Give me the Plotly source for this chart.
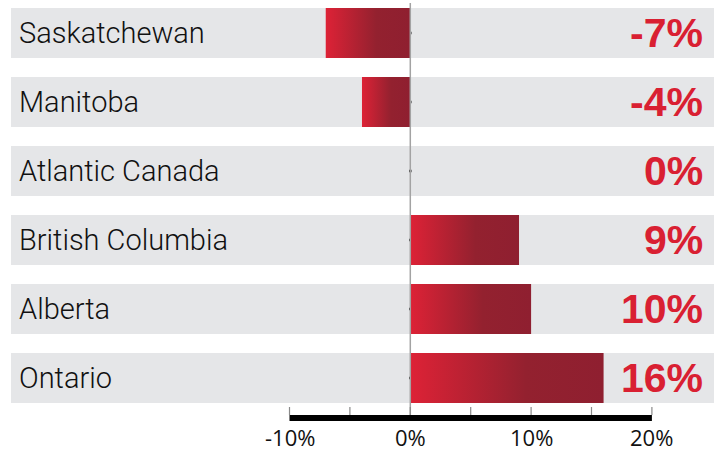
import plotly.graph_objects as go

# Change by region (percent), top to bottom
regions = ["Saskatchewan", "Manitoba", "Atlantic Canada", "British Columbia", "Alberta", "Ontario"]
changes = [-7, -4, 0, 9, 10, 16]
value_labels = ["-7%", "-4%", "0%", "9%", "10%", "16%"]

# Axis ticks
tick_vals = [-10, -5, 0, 5, 10, 15, 20]
label_vals = [-10, 0, 10, 20]
label_text = ["-10%", "0%", "10%", "20%"]

W, H = 723, 451
ZERO_PX, PX_PER_UNIT = 410.3, 12.08
ROW0_PX, ROW_PITCH = 33, 69

x_range = [-ZERO_PX / PX_PER_UNIT, (W - ZERO_PX) / PX_PER_UNIT]
y_range = [(H - ROW0_PX) / ROW_PITCH, -ROW0_PX / ROW_PITCH]


def px_to_x(px):
    return (px - ZERO_PX) / PX_PER_UNIT


def px_to_y(px):
    return (px - ROW0_PX) / ROW_PITCH


half = 25 / ROW_PITCH  # half band / bar height in row units
band_left, band_right = px_to_x(11), px_to_x(714)

RED = "#d92032"
BAND = "#e5e6e8"
GRADIENT = [[0, "#dd2236"], [0.6, "#93212f"], [1, "#8f1f30"]]

fig = go.Figure()
shapes = []
annotations = []

# grey background bands
for i, _ in enumerate(regions):
    shapes.append(dict(type="rect", xref="x", yref="y", layer="below",
                       x0=band_left, x1=band_right, y0=i - half, y1=i + half,
                       fillcolor=BAND, line=dict(width=0)))

# small marks at the zero line
fig.add_trace(go.Scatter(
    x=[0] * len(regions), y=list(range(len(regions))), mode="markers",
    marker=dict(symbol="square", size=2.5, color="#333333", line=dict(width=0)),
    hoverinfo="skip", showlegend=False))

# gradient-filled bars
for i, v in enumerate(changes):
    if v == 0:
        continue
    fig.add_trace(go.Scatter(
        x=[0, v, v, 0, 0],
        y=[i - half, i - half, i + half, i + half, i - half],
        mode="lines", fill="toself", line=dict(width=0),
        fillgradient=dict(type="horizontal", colorscale=GRADIENT),
        hoverinfo="skip", showlegend=False))

# zero line
shapes.append(dict(type="line", xref="x", yref="y", x0=0, x1=0,
                   y0=px_to_y(3), y1=px_to_y(415),
                   line=dict(color="#a3a3a3", width=1.5)))

# axis baseline and ticks
shapes.append(dict(type="line", xref="x", yref="y",
                   x0=tick_vals[0], x1=tick_vals[-1], y0=px_to_y(418), y1=px_to_y(418),
                   line=dict(color="#000000", width=6)))
for t in tick_vals:
    shapes.append(dict(type="line", xref="x", yref="y", x0=t, x1=t,
                       y0=px_to_y(407), y1=px_to_y(415),
                       line=dict(color="#8a8a8a", width=1.2)))

for v, txt in zip(label_vals, label_text):
    annotations.append(dict(x=v, y=px_to_y(437), xref="x", yref="y", text=txt,
                            showarrow=False, xanchor="center", yanchor="middle",
                            font=dict(family="Open Sans, Liberation Sans, sans-serif",
                                      size=22, color="#111111")))

# region names and value labels
for i, (name, lab) in enumerate(zip(regions, value_labels)):
    annotations.append(dict(x=px_to_x(17), y=i, xref="x", yref="y", text=name,
                            showarrow=False, xanchor="left", yanchor="middle",
                            font=dict(family="Roboto, sans-serif", weight=300,
                                      size=29, color="#111111")))
    annotations.append(dict(x=px_to_x(705), y=i, xref="x", yref="y", text=f"<b>{lab}</b>",
                            showarrow=False, xanchor="right", yanchor="middle",
                            font=dict(family="Liberation Sans, Arial, sans-serif",
                                      size=41, color=RED)))

fig.update_layout(
    width=W, height=H,
    margin=dict(l=0, r=0, t=0, b=0),
    paper_bgcolor="white", plot_bgcolor="white",
    xaxis=dict(range=x_range, visible=False, fixedrange=True),
    yaxis=dict(range=y_range, visible=False, fixedrange=True),
    shapes=shapes, annotations=annotations,
    showlegend=False,
)

fig.write_html("out.html")
